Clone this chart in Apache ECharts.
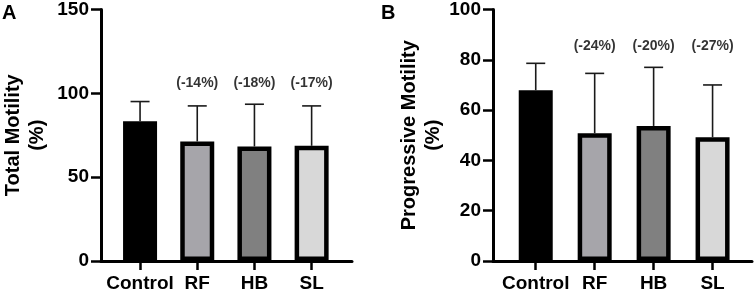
<!DOCTYPE html>
<html>
<head>
<meta charset="utf-8">
<script src="https://cdn.jsdelivr.net/npm/echarts@6/dist/echarts.min.js"></script>
<style>html,body{margin:0;padding:0;background:#fff;}#c{width:754px;height:294px;}</style>
</head>
<body>
<div id="c"></div>
<script>
const categories = ['Control', 'RF', 'HB', 'SL'];
const totalMean = [83.4, 71.3, 68.3, 68.7];
const totalSD = [11.7, 21.2, 25.2, 23.8];
const totalChange = ['', '(-14%)', '(-18%)', '(-17%)'];
const progMean = [67.9, 50.8, 53.7, 49.2];
const progSD = [10.7, 23.8, 23.3, 20.8];
const progChange = ['', '(-24%)', '(-20%)', '(-27%)'];
const barColors = ['#000000', '#a6a5aa', '#808080', '#d8d8d8'];

const FONT = '"Liberation Sans", Arial, sans-serif';
const chart = echarts.init(document.getElementById('c'), null, {renderer: 'canvas'});

function errRender(params, api) {
  const x = api.value(0), m = api.value(1), sd = api.value(2);
  const p0 = api.coord([x, m]);
  const p1 = api.coord([x, m + sd]);
  const st = {stroke: '#1a1a1a', lineWidth: 1.6};
  return {type: 'group', children: [
    {type: 'line', shape: {x1: p0[0], y1: p0[1], x2: p1[0], y2: p1[1]}, style: st},
    {type: 'line', shape: {x1: p1[0] - 9.5, y1: p1[1], x2: p1[0] + 9.5, y2: p1[1]}, style: st}
  ]};
}

function xAxisCfg(gi, min, max) {
  return {
    type: 'value', gridIndex: gi, min: min, max: max,
    splitLine: {show: false},
    axisLine: {show: true, onZero: false, lineStyle: {color: '#000', width: 3}},
    axisTick: {show: true, customValues: [0, 1, 2, 3], length: 9, lineStyle: {color: '#000', width: 2.5}},
    axisLabel: {show: true, customValues: [0, 1, 2, 3], margin: 13,
      formatter: v => categories[Math.round(v)] || '',
      color: '#000', fontFamily: FONT, fontWeight: 'bold', fontSize: 19}
  };
}
function yAxisCfg(gi, max, interval, name, gap) {
  return {
    type: 'value', gridIndex: gi, min: 0, max: max, interval: interval,
    splitLine: {show: false},
    axisLine: {show: true, onZero: false, lineStyle: {color: '#000', width: 3}},
    axisTick: {show: true, length: 10, lineStyle: {color: '#000', width: 2.5}},
    axisLabel: {margin: 12, color: '#000', fontFamily: FONT, fontWeight: 'bold', fontSize: 19},
    name: name, nameLocation: 'middle', nameRotate: 90, nameGap: gap,
    nameTextStyle: {color: '#000', fontFamily: FONT, fontWeight: 'bold', fontSize: 20, lineHeight: 24, align: 'center'}
  };
}

function barData(means) {
  return means.map((v, i) => ({value: [i, v], itemStyle: {color: barColors[i], borderColor: '#000', borderWidth: 4.5}}));
}

chart.setOption({
  animation: false,
  grid: [
    {left: 97, right: 402, top: 7.5, bottom: 33},
    {left: 493, right: 2, top: 7.3, bottom: 33}
  ],
  xAxis: [xAxisCfg(0, -0.683, 3.706), xAxisCfg(1, -0.725, 3.669)],
  yAxis: [yAxisCfg(0, 150, 50, 'Total Motility\n(%)', 52), yAxisCfg(1, 100, 20, 'Progressive Motility\n(%)', 44)],
  graphic: [
    {type: 'text', left: 2, top: 3, style: {text: 'A', font: 'bold 20px ' + FONT, fill: '#000'}},
    {type: 'text', left: 381, top: 3, style: {text: 'B', font: 'bold 20px ' + FONT, fill: '#000'}}
  ],
  series: [
    {type: 'bar', xAxisIndex: 0, yAxisIndex: 0, barWidth: 34, data: barData(totalMean), z: 2},
    {type: 'bar', xAxisIndex: 1, yAxisIndex: 1, barWidth: 34, data: barData(progMean), z: 2},
    {type: 'custom', xAxisIndex: 0, yAxisIndex: 0, renderItem: errRender, z: 3,
      data: totalMean.map((v, i) => [i, v, totalSD[i]])},
    {type: 'custom', xAxisIndex: 1, yAxisIndex: 1, renderItem: errRender, z: 3,
      data: progMean.map((v, i) => [i, v, progSD[i]])},
    {type: 'scatter', xAxisIndex: 0, yAxisIndex: 0, symbolSize: 0, silent: true,
      data: totalChange.map((t, i) => [i, 106]),
      label: {show: true, position: 'inside', formatter: p => totalChange[p.dataIndex],
        color: '#000', fontFamily: FONT, fontWeight: 'bold', fontSize: 14}},
    {type: 'scatter', xAxisIndex: 1, yAxisIndex: 1, symbolSize: 0, silent: true,
      data: progChange.map((t, i) => [i, 85.5]),
      label: {show: true, position: 'inside', formatter: p => progChange[p.dataIndex],
        color: '#000', fontFamily: FONT, fontWeight: 'bold', fontSize: 14}}
  ]
});
</script>
</body>
</html>
